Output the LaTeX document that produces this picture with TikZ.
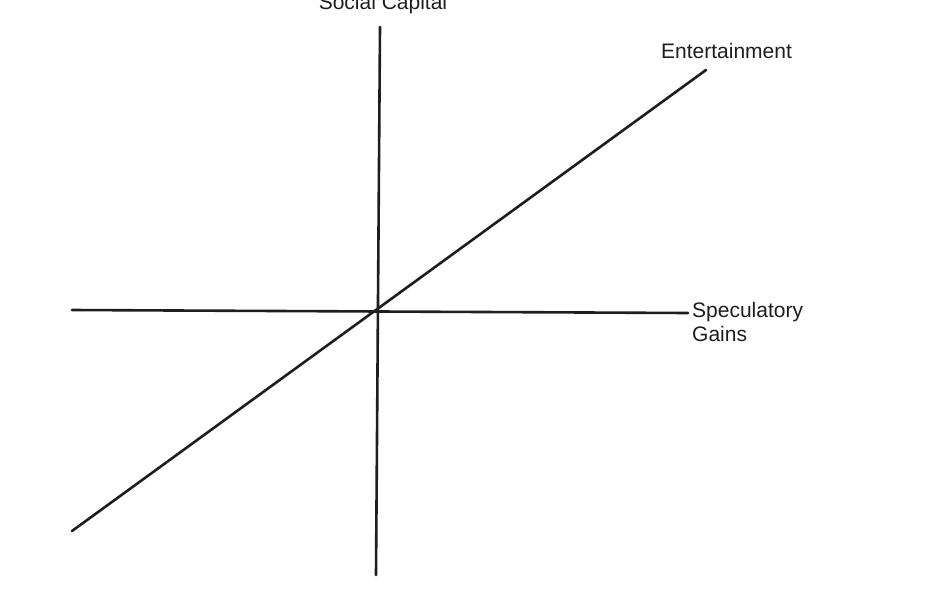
\documentclass[tikz,border=0pt]{standalone}
\usepackage{fontspec}
\setmainfont{Liberation Sans}
\definecolor{ink}{HTML}{1E1E1E}
\begin{document}
\begin{tikzpicture}[x=1pt,y=-1pt,
  axisline/.style={draw=ink,line width=2.6pt,line cap=round},
  lbl/.style={text=ink,font=\fontsize{21}{24}\selectfont,inner sep=0pt}]
\useasboundingbox[fill=white] (0,0) rectangle (943,600);
\coordinate (vt) at (380,27);
\coordinate (vb) at (376,575);
\coordinate (hl) at (72,310);
\coordinate (hr) at (688,313);
\coordinate (dl) at (72,531);
\coordinate (dr) at (706,70);
\draw[axisline] (vt) -- (vb);
\draw[axisline] (hl) -- (hr);
\draw[axisline] (dl) -- (dr);
\node[lbl,anchor=base] (sc) at (383,9) {Social Capital};
\node[lbl,anchor=base west] (ent) at (661,58) {Entertainment};
\node[lbl,anchor=north west,align=left] (sg) at (692,302) {Speculatory\\Gains};
\end{tikzpicture}
\end{document}
